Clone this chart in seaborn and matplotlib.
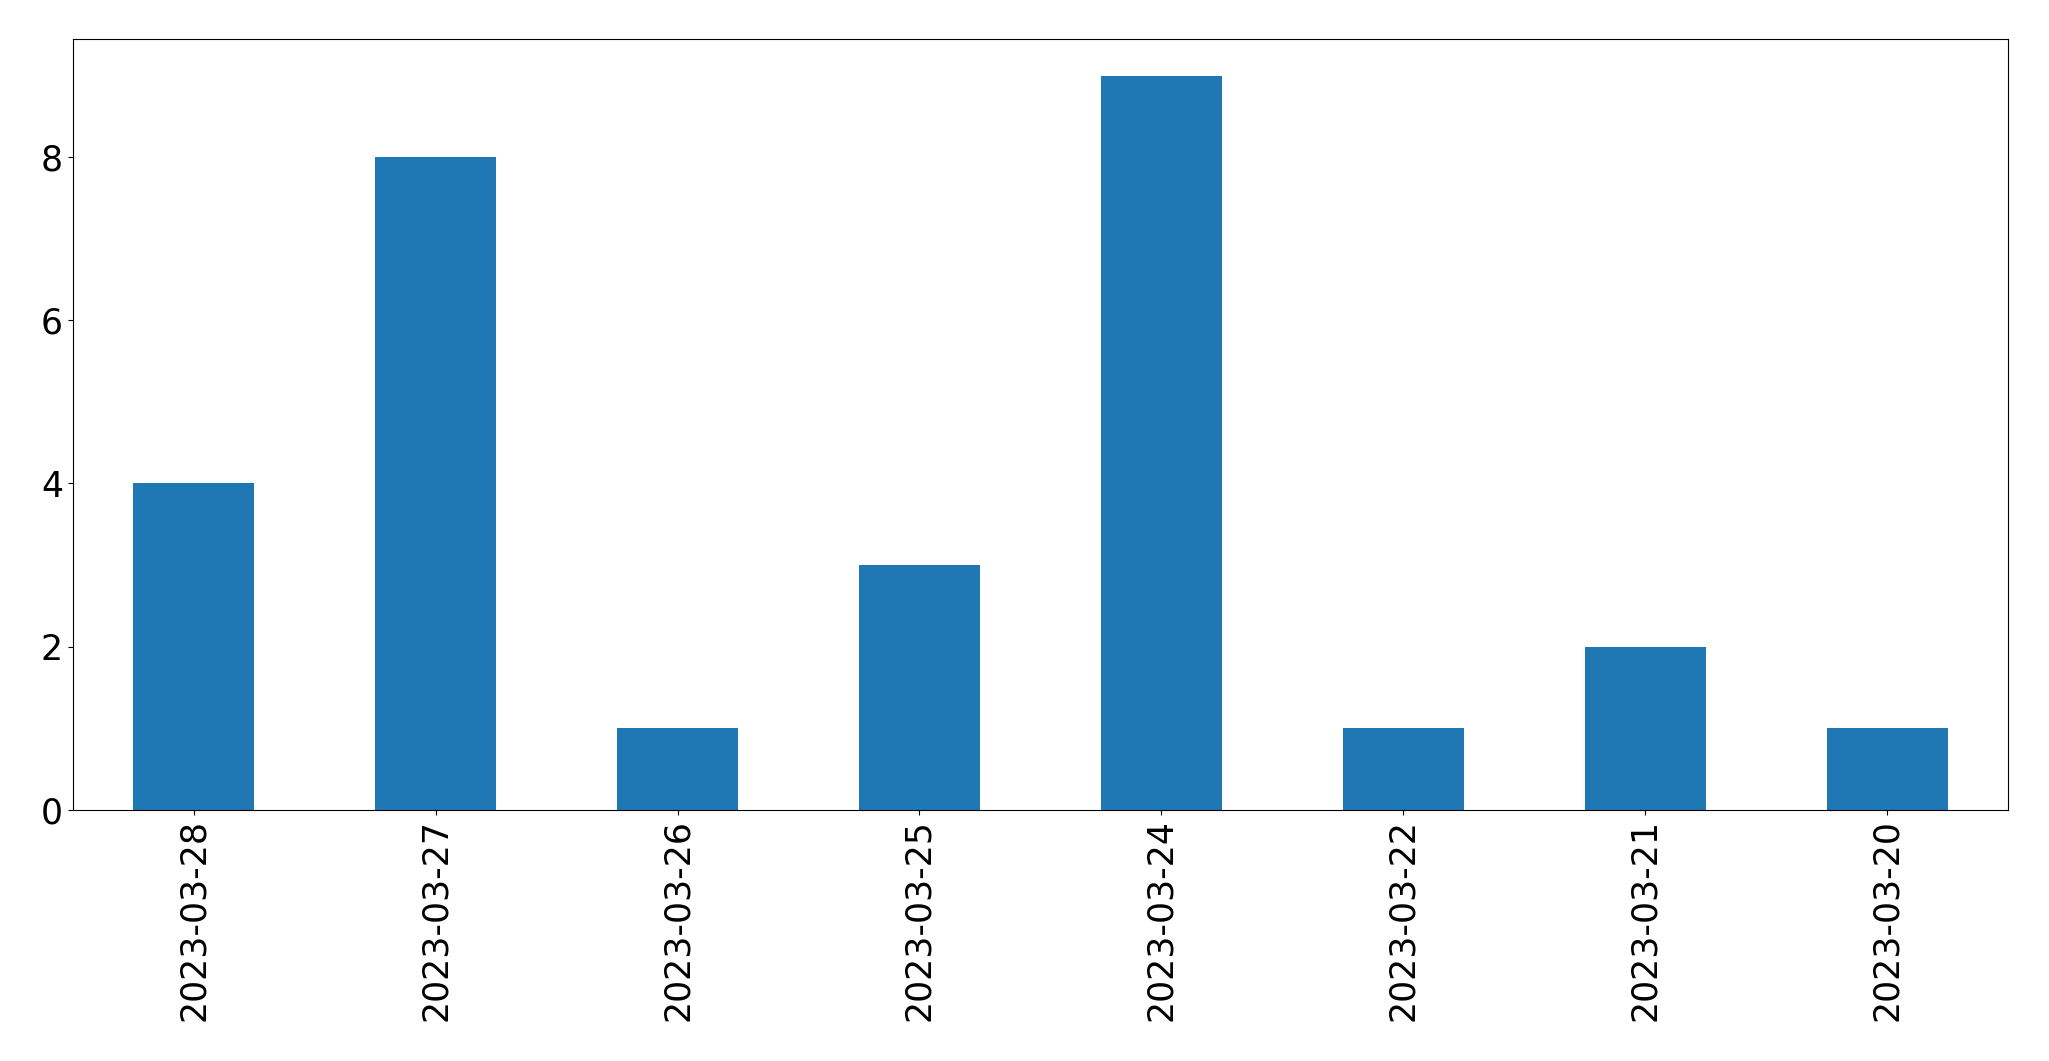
import pandas as pd
import numpy as np
import matplotlib
matplotlib.use("Agg")
import matplotlib.pyplot as plt
import seaborn as sns

# values
dates = ['2023-03-28', '2023-03-27', '2023-03-26', '2023-03-25',
         '2023-03-24', '2023-03-22', '2023-03-21', '2023-03-20']
counts = [4, 8, 1, 3, 9, 1, 2, 1]

df = pd.DataFrame({'date': dates, 'count': counts})

fig, ax = plt.subplots(figsize=(20.49, 10.61), dpi=100)
fig.subplots_adjust(left=0.0355, right=0.98, top=0.963, bottom=0.237)

sns.barplot(data=df, x='date', y='count', order=dates, color='#1f77b4',
            saturation=1, width=0.5, ax=ax)

ax.set_xlim(-0.5, len(dates) - 0.5)
ax.set_ylim(0, max(counts) * 1.05)
ax.set_yticks([0, 2, 4, 6, 8])
ax.set_xlabel('')
ax.set_ylabel('')
ax.tick_params(axis='x', labelrotation=90, labelsize=25)
ax.tick_params(axis='y', labelsize=25)

plt.savefig('out.png', dpi=100)
